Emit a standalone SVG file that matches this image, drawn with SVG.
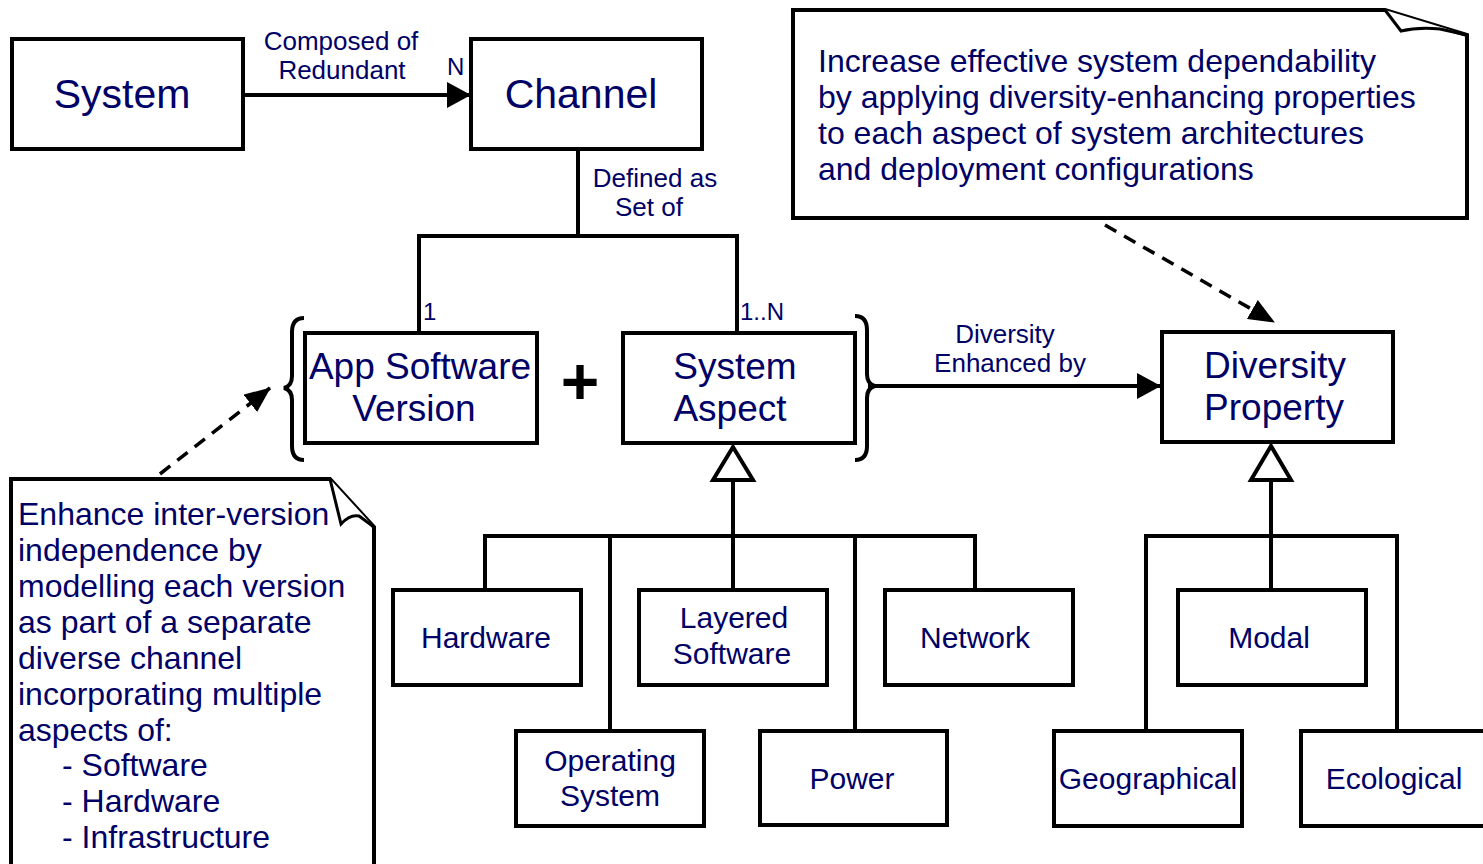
<svg xmlns="http://www.w3.org/2000/svg" width="1483" height="864" viewBox="0 0 1483 864">
<style>
.box{fill:#fff;stroke:#000;stroke-width:4}
.ln{fill:none;stroke:#000;stroke-width:4}
.dash{fill:none;stroke:#000;stroke-width:3.5;stroke-dasharray:13 9}
text{font-family:"Liberation Sans",Arial,sans-serif;fill:#000066}
.big{font-size:41px;text-anchor:middle}
.mid{font-size:37px;text-anchor:middle}
.sm{font-size:30px;text-anchor:middle}
.lab{font-size:26px;text-anchor:middle}
.mult{font-size:24px}
.note{font-size:32px}
</style>
<defs>
<marker id="arr" markerWidth="24" markerHeight="26" refX="23" refY="13" orient="auto" markerUnits="userSpaceOnUse">
<path d="M0,0 L24,13 L0,26 Z" fill="#000"/>
</marker>
<marker id="darr" markerWidth="26" markerHeight="22" refX="25" refY="11" orient="auto" markerUnits="userSpaceOnUse">
<path d="M0,0 L26,11 L0,22 Z" fill="#000"/>
</marker>
</defs>

<g id="connectors">
<line class="ln" x1="243" y1="95" x2="470" y2="95" marker-end="url(#arr)"/>
<polyline class="ln" points="578,149 578,236"/>
<polyline class="ln" points="419,332 419,236 737,236 737,332"/>
<line class="ln" x1="868" y1="386" x2="1160" y2="386" marker-end="url(#arr)"/>
<path class="ln" d="M304,318 Q292,318 292,332 L292,376 Q292,386 284,388 Q292,390 292,400 L292,446 Q292,460 304,460"/>
<path class="ln" d="M855,316 Q867,316 867,330 L867,374 Q867,384 875,386 Q867,388 867,398 L867,446 Q867,460 855,460"/>
<polygon points="733,447 713,480 753,480" fill="#fff" stroke="#000" stroke-width="4"/>
<line class="ln" x1="733" y1="480" x2="733" y2="536"/>
<polyline class="ln" points="485,590 485,536 975,536 975,590"/>
<line class="ln" x1="610" y1="536" x2="610" y2="731"/>
<line class="ln" x1="733" y1="536" x2="733" y2="590"/>
<line class="ln" x1="855" y1="536" x2="855" y2="731"/>
<polygon points="1271,446 1251,480 1291,480" fill="#fff" stroke="#000" stroke-width="4"/>
<line class="ln" x1="1271" y1="480" x2="1271" y2="590"/>
<polyline class="ln" points="1146,731 1146,536 1397,536 1397,731"/>
<line class="dash" x1="1105" y1="225" x2="1274" y2="322" marker-end="url(#darr)"/>
<line class="dash" x1="160" y1="474" x2="270" y2="388" marker-end="url(#darr)"/>
<text class="lab" x="341" y="50">Composed of</text>
<text class="lab" x="342" y="79">Redundant</text>
<text class="mult" x="447" y="75">N</text>
<text class="lab" x="655" y="187">Defined as</text>
<text class="lab" x="649" y="216">Set of</text>
<text class="mult" x="423" y="320">1</text>
<text class="mult" x="740" y="320">1..N</text>
<text class="lab" x="1005" y="343">Diversity</text>
<text class="lab" x="1010" y="372">Enhanced by</text>
<text x="580" y="404" style="font-size:66px;font-weight:bold;text-anchor:middle;fill:#000">+</text>
</g>

<g id="system"><rect class="box" x="12" y="39" width="231" height="110"/><text class="big" x="122" y="108">System</text></g>
<g id="channel"><rect class="box" x="471" y="39" width="231" height="110"/><text class="big" x="581" y="108">Channel</text></g>
<g id="app-software-version"><rect class="box" x="305" y="333" width="232" height="110"/><text class="mid" x="420" y="379">App Software</text><text class="mid" x="414" y="421">Version</text></g>
<g id="system-aspect"><rect class="box" x="623" y="333" width="232" height="110"/><text class="mid" x="735" y="379">System</text><text class="mid" x="730" y="421">Aspect</text></g>
<g id="diversity-property"><rect class="box" x="1162" y="332" width="231" height="110"/><text class="mid" x="1275" y="378">Diversity</text><text class="mid" x="1274" y="420">Property</text></g>

<g id="hardware"><rect class="box" x="393" y="590" width="188" height="95"/><text class="sm" x="486" y="648">Hardware</text></g>
<g id="layered-software"><rect class="box" x="639" y="590" width="188" height="95"/><text class="sm" x="734" y="628">Layered</text><text class="sm" x="732" y="664">Software</text></g>
<g id="network"><rect class="box" x="885" y="590" width="188" height="95"/><text class="sm" x="975" y="648">Network</text></g>
<g id="operating-system"><rect class="box" x="516" y="731" width="188" height="95"/><text class="sm" x="610" y="771">Operating</text><text class="sm" x="610" y="806">System</text></g>
<g id="power"><rect class="box" x="760" y="731" width="187" height="94"/><text class="sm" x="852" y="789">Power</text></g>
<g id="modal"><rect class="box" x="1178" y="590" width="188" height="95"/><text class="sm" x="1269" y="648">Modal</text></g>
<g id="geographical"><rect class="box" x="1054" y="731" width="188" height="95"/><text class="sm" x="1148" y="789">Geographical</text></g>
<g id="ecological"><rect class="box" x="1301" y="731" width="186" height="95"/><text class="sm" x="1394" y="789">Ecological</text></g>

<g id="note-top">
<path class="box" d="M793,10 L1385,10 L1467,35 L1467,218 L793,218 Z"/>
<path fill="#fff" stroke="#000" stroke-width="3" d="M1385,10 L1401,31 Q1418,27 1440,29 L1467,35"/>
<text class="note" x="818" y="72">Increase effective system dependability</text>
<text class="note" x="818" y="108">by applying diversity-enhancing properties</text>
<text class="note" x="818" y="144">to each aspect of system architectures</text>
<text class="note" x="818" y="180">and deployment configurations</text>
</g>

<g id="note-left">
<path class="box" d="M11,479 L330,479 L374,527 L374,866 L11,866 Z"/>
<path fill="#fff" stroke="#000" stroke-width="3" d="M330,479 L341,524 Q350,514 359,516 L374,527"/>
<text class="note" x="18" y="525">Enhance inter-version</text>
<text class="note" x="18" y="561">independence by</text>
<text class="note" x="18" y="597">modelling each version</text>
<text class="note" x="18" y="633">as part of a separate</text>
<text class="note" x="18" y="669">diverse channel</text>
<text class="note" x="18" y="705">incorporating multiple</text>
<text class="note" x="18" y="741">aspects of:</text>
<text class="note" x="62" y="776">- Software</text>
<text class="note" x="62" y="812">- Hardware</text>
<text class="note" x="62" y="848">- Infrastructure</text>
</g>
</svg>
